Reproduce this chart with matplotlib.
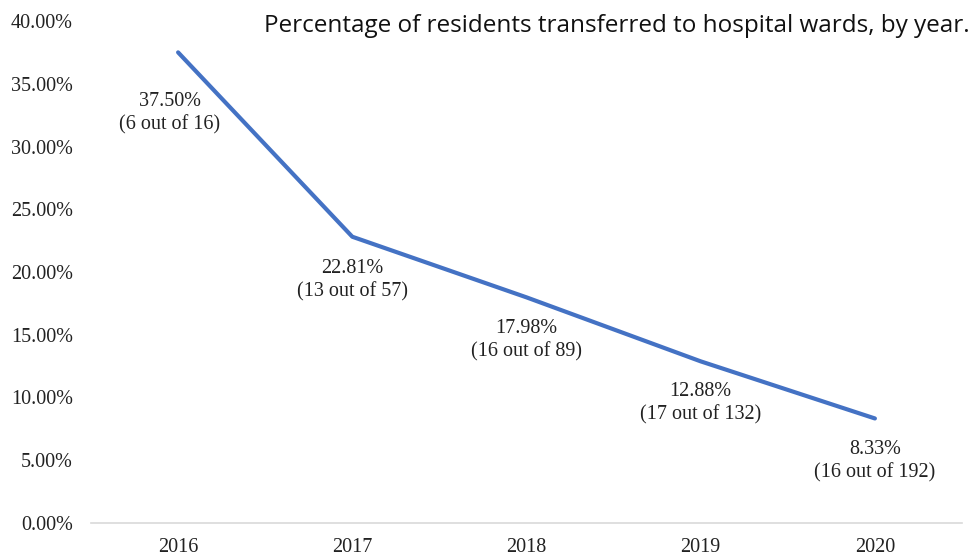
import matplotlib.pyplot as plt
from matplotlib.ticker import FuncFormatter

years = ['2016', '2017', '2018', '2019', '2020']
transferred = [6, 13, 16, 17, 16]
residents = [16, 57, 89, 132, 192]
pct = [37.50, 22.81, 17.98, 12.88, 8.33]

# label offsets in points (first one was nudged by hand in the original)
label_offsets = [(-6, -43.5), (0, -31.5), (0, -31), (0, -30.5), (0, -30.5)]

fig = plt.figure(figsize=(9.76, 5.56), dpi=100)
ax = fig.add_axes([91 / 976, 1 - 523 / 556, (962 - 91) / 976, (523 - 21) / 556])

x = list(range(len(years)))
ax.plot(x, pct, color='#4472C4', linewidth=3, solid_capstyle='round')

for i, (p, n, d) in enumerate(zip(pct, transferred, residents)):
    ax.annotate(f'{p:.2f}%\n({n} out of {d})', (x[i], p),
                xytext=label_offsets[i], textcoords='offset points',
                ha='center', va='center', fontsize=14.5,
                family='Liberation Serif', linespacing=1.28, color='#222222')

ax.set_xlim(-0.5, len(years) - 0.5)
ax.set_ylim(0, 40)
ax.set_yticks(range(0, 41, 5))
ax.yaxis.set_major_formatter(FuncFormatter(lambda v, _: f'{v:.2f}%'))
ax.set_xticks(x)
ax.set_xticklabels(years)

for lab in ax.get_xticklabels() + ax.get_yticklabels():
    lab.set_family('Liberation Serif')
    lab.set_fontsize(14.5)
    lab.set_color('#222222')

ax.tick_params(axis='y', length=0, pad=13)
ax.tick_params(axis='x', length=0, pad=11)
for side in ['top', 'right', 'left']:
    ax.spines[side].set_visible(False)
ax.spines['bottom'].set_color('#D9D9D9')
ax.spines['bottom'].set_linewidth(1.2)

fig.text(970 / 976, 1 - 26 / 556, 'Percentage of residents transferred to hospital wards, by year.',
         ha='right', va='center', fontsize=17.5, family='Open Sans', color='#111111')

plt.savefig('out.png', dpi=100)
